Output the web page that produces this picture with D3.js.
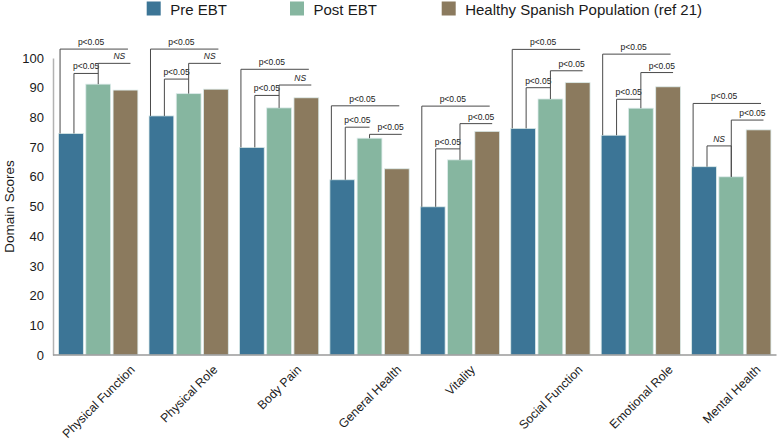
<!DOCTYPE html>
<html lang="en">
<head>
<meta charset="utf-8">
<title>Domain Scores</title>
<script src="https://d3js.org/d3.v7.min.js"></script>
<style>
  body { margin: 0; background: #fff; }
  svg text { font-family: "Liberation Sans", Arial, Helvetica, sans-serif; fill: #1a1a1a; }
  .bracket { fill: none; stroke: #4a4a4a; stroke-width: 1; }
</style>
</head>
<body>
<script>
// data
var categories = ["Physical Function", "Physical Role", "Body Pain", "General Health",
                  "Vitality", "Social Function", "Emotional Role", "Mental Health"];
var seriesNames = ["Pre EBT", "Post EBT", "Healthy Spanish Population (ref 21)"];
var preEBT  = [74.6, 80.5, 69.9, 59.0, 49.9, 76.3, 74.0, 63.4];
var postEBT = [91.2, 88.0, 83.2, 73.0, 65.7, 86.2, 83.1, 60.0];
var healthy = [89.2, 89.5, 86.6, 62.7, 75.3, 91.7, 90.3, 75.8];
var yTicks  = [0, 10, 20, 30, 40, 50, 60, 70, 80, 90, 100];

// significance annotations: pre vs post, post vs healthy, pre vs healthy
var preVsPostLabel     = ["p<0.05", "p<0.05", "p<0.05", "p<0.05", "p<0.05", "p<0.05", "p<0.05", "NS"];
var postVsHealthyLabel = ["NS", "NS", "NS", "p<0.05", "p<0.05", "p<0.05", "p<0.05", "p<0.05"];
var preVsHealthyLabel  = ["p<0.05", "p<0.05", "p<0.05", "p<0.05", "p<0.05", "p<0.05", "p<0.05", "p<0.05"];
var preVsPostLevel     = [94.8, 92.9, 87.4, 76.7, 69.4, 90.0, 86.1, 70.4];
var postVsHealthyLevel = [98.2, 98.2, 90.9, 74.3, 77.9, 95.7, 95.1, 79.1];
var preVsHealthyLevel  = [103.0, 103.0, 96.2, 83.9, 83.8, 102.9, 101.3, 84.7];

var colors = ["#3c7596", "#86b6a0", "#8b7a5e"];

var w = 778, h = 442;
var svg = d3.select("body").append("svg").attr("width", w).attr("height", h);

var x0 = d3.scaleBand().domain(categories).range([53, 776.5]).paddingInner(0.123).paddingOuter(0.0615);
var x1 = d3.scaleBand().domain([0, 1, 2]).range([0, x0.bandwidth()]).paddingInner(0.09);
var y = d3.scaleLinear().domain([0, 100]).range([355, 58]);

var table = categories.map(function(c, i) {
    return { cat: c, i: i, vals: [preEBT[i], postEBT[i], healthy[i]] };
});

// y axis
var yAxis = d3.axisLeft(y).tickValues(yTicks).tickSize(0).tickPadding(9);
var gy = svg.append("g").attr("transform", "translate(53,0)").call(yAxis);
gy.select(".domain").attr("stroke", "#b3b3b3").attr("stroke-width", 1.5);
gy.selectAll("text").style("font-size", "13px").attr("fill", "#1a1a1a");

svg.append("text")
    .attr("transform", "translate(14," + y(50) + ") rotate(-90)")
    .attr("text-anchor", "middle")
    .style("font-size", "13.5px")
    .text("Domain Scores");

// bars
var groups = svg.append("g").selectAll("g").data(table).enter().append("g")
    .attr("transform", function(d) { return "translate(" + x0(d.cat) + ",0)"; });

groups.selectAll("rect").data(function(d) { return d.vals; }).enter().append("rect")
    .attr("x", function(d, j) { return x1(j); })
    .attr("width", x1.bandwidth())
    .attr("y", function(d) { return y(d); })
    .attr("height", function(d) { return y(0) - y(d); })
    .attr("fill", function(d, j) { return colors[j]; })
    .attr("stroke", "#dcebea")
    .attr("stroke-width", 0.8);

// x axis line
svg.append("line").attr("x1", 53).attr("x2", 776.5).attr("y1", y(0)).attr("y2", y(0))
    .attr("stroke", "#9a9a9a").attr("stroke-width", 1.5);

// category labels, rotated
svg.append("g").selectAll("text").data(categories).enter().append("text")
    .attr("text-anchor", "end")
    .style("font-size", "12.3px")
    .text(function(d) { return d; })
    .attr("transform", function(d) {
        var L = this.getComputedTextLength();
        var cx = x0(d) + x0.bandwidth() / 2;
        return "translate(" + (cx + 0.354 * L + 3.2) + ",370.5) rotate(-45)";
    });

// brackets
function barX(i, j, f) { return x0(categories[i]) + x1(j) + x1.bandwidth() * f; }
var ann = svg.append("g");

function bracket(i, xa, xb, level, legA, legB, label, labelShift, italic) {
    var ly = y(level);
    var p = d3.path();
    if (legA !== null) { p.moveTo(xa, y(legA)); p.lineTo(xa, ly); } else { p.moveTo(xa, ly); }
    p.lineTo(xb, ly);
    if (legB !== null) p.lineTo(xb, y(legB));
    ann.append("path").attr("class", "bracket").attr("d", p.toString());
    ann.append("text")
        .attr("x", (xa + xb) / 2 + labelShift)
        .attr("y", ly - 4)
        .attr("text-anchor", "middle")
        .style("font-size", "8.5px")
        .style("font-style", italic ? "italic" : "normal")
        .text(label);
}

table.forEach(function(d, i) {
    var pre = d.vals[0], post = d.vals[1], hl = d.vals[2];
    // pre vs healthy (outer)
    bracket(i, barX(i, 0, 0.06), barX(i, 2, 0.6), preVsHealthyLevel[i], pre, null,
            preVsHealthyLabel[i], -3, false);
    // pre vs post
    var legPost = (preVsPostLevel[i] < postVsHealthyLevel[i] && post < preVsPostLevel[i] && i === 7) ? post : null;
    bracket(i, barX(i, 0, 0.62), barX(i, 1, 0.5), preVsPostLevel[i], pre, legPost,
            preVsPostLabel[i], 0, preVsPostLabel[i] === "NS");
    // post vs healthy
    if (postVsHealthyLevel[i] < post) {
        bracket(i, barX(i, 1, 0.7), barX(i, 2, 0.55), postVsHealthyLevel[i], null, hl,
                postVsHealthyLabel[i], 6, false);
    } else {
        bracket(i, barX(i, 1, 0.5), barX(i, 2, 0.7), postVsHealthyLevel[i], post, null,
                postVsHealthyLabel[i], 5, postVsHealthyLabel[i] === "NS");
    }
});

// legend
var legendX = [146.7, 290, 441.7];
var legend = svg.append("g").selectAll("g").data(seriesNames).enter().append("g")
    .attr("transform", function(d, j) { return "translate(" + legendX[j] + ",1.5)"; });
legend.append("rect").attr("width", 14).attr("height", 14)
    .attr("fill", function(d, j) { return colors[j]; });
legend.append("text").attr("x", 23.5).attr("y", 13)
    .style("font-size", "15px")
    .text(function(d) { return d; });
</script>
</body>
</html>
